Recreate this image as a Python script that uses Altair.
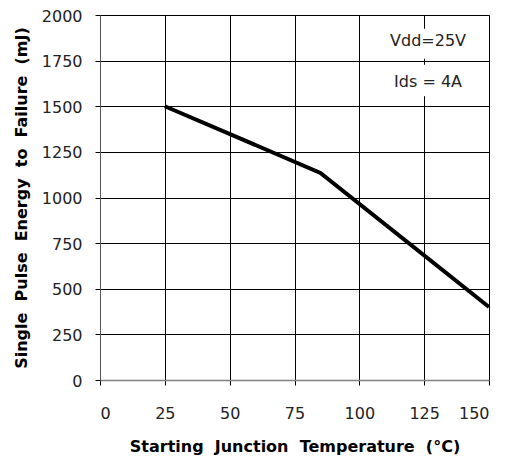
import altair as alt
import pandas as pd

temps = [25, 85, 150]
energy = [1500, 1135, 400]

notes = ["Vdd=25V", "Ids = 4A"]
note_x = [126.5, 126.5]
note_y = [1858, 1635]
box_x = [111, 111]
box_x2 = [142, 142]
box_y = [1760, 1555]
box_y2 = [1925, 1727]

df = pd.DataFrame({"t": temps, "e": energy})
ndf = pd.DataFrame({"label": notes, "x": note_x, "y": note_y,
                    "bx": box_x, "bx2": box_x2, "by": box_y, "by2": box_y2})

font = "DejaVu Sans"
sp = " \u00a0"

xs = alt.Scale(domain=[0, 150], nice=False)
ys = alt.Scale(domain=[0, 2000], nice=False)

xaxis = alt.Axis(values=[0, 25, 50, 75, 100, 125, 150], grid=True, gridColor="black",
                 gridOpacity=1, gridWidth=1, tickColor="black", tickSize=5, format="d",
                 domainColor="#808080", domainWidth=1.5, labelFont=font, labelFontSize=16,
                 labelColor="#222", labelPadding=20, titleFont=font, titleFontSize=16,
                 titleFontWeight="bold", titlePadding=17, titleColor="black")
yaxis = alt.Axis(values=[0, 250, 500, 750, 1000, 1250, 1500, 1750, 2000], grid=True,
                 gridColor="black", gridOpacity=1, gridWidth=1, tickColor="black", format="d",
                 tickSize=5, domainColor="#555", labelFont=font, labelFontSize=16,
                 labelColor="#222", labelPadding=13, labelOffset=1, titleFont=font,
                 titleFontSize=16, titleFontWeight="bold", titlePadding=12,
                 titleColor="black")

xtitle = sp.join(["Starting", "Junction", "Temperature", "(°C)"])
ytitle = sp.join(["Single", "Pulse", "Energy", "to", "Failure", "(mJ)"])

line = alt.Chart(df).mark_line(color="black", strokeWidth=4).encode(
    x=alt.X("t:Q", scale=xs, axis=xaxis, title=xtitle),
    y=alt.Y("e:Q", scale=ys, axis=yaxis, title=ytitle),
)

boxes = alt.Chart(ndf).mark_rect(color="white").encode(
    x=alt.X("bx:Q", scale=xs), x2="bx2", y=alt.Y("by:Q", scale=ys), y2="by2")

texts = alt.Chart(ndf).mark_text(font=font, fontSize=16, color="#222").encode(
    x=alt.X("x:Q", scale=xs), y=alt.Y("y:Q", scale=ys), text="label:N")

chart = alt.layer(boxes, line, texts).properties(
    width=389, height=365, autosize=alt.AutoSizeParams(type="none"),
    padding={"left": 92, "top": 7, "right": 10, "bottom": 76}
).configure_view(stroke=None).configure(background="white")

chart.save("out.html", embed_options={"renderer": "svg", "actions": False})
